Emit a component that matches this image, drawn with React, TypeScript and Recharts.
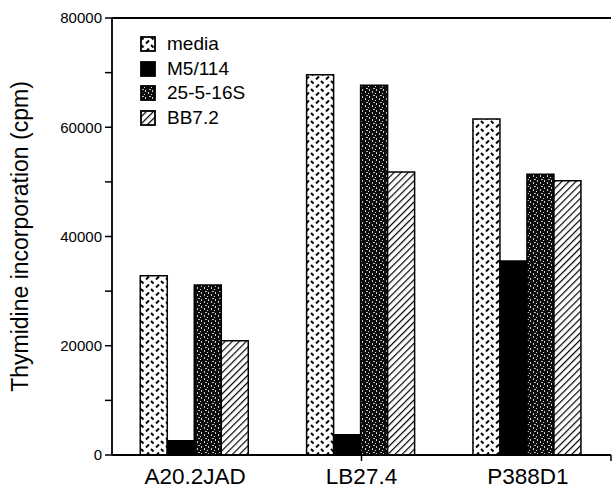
import React from 'react';
import { BarChart, Bar, XAxis, YAxis, Legend, ReferenceLine } from 'recharts';

const categories = ['A20.2JAD', 'LB27.4', 'P388D1'];
const media = [32800, 69600, 61500];
const m5114 = [2600, 3700, 35500];
const s25516 = [31100, 67700, 51400];
const bb72 = [20900, 51800, 50200];
const yTicks = [0, 10000, 20000, 30000, 40000, 50000, 60000, 70000, 80000];
const edgeTicks = [1, 2];

const data = categories.map((name, i) => ({
  name,
  media: media[i],
  m5114: m5114[i],
  s25516: s25516[i],
  bb72: bb72[i],
}));

const series = [
  { key: 'media', name: 'media', fill: 'url(#pMedia)' },
  { key: 'm5114', name: 'M5/114', fill: '#000' },
  { key: 's25516', name: '25-5-16S', fill: 'url(#pSpeck)' },
  { key: 'bb72', name: 'BB7.2', fill: 'url(#pHatch)' },
];

const font = '"Liberation Sans", Arial, Helvetica, sans-serif';

// pattern defs, prefix keeps ids unique between chart and legend
const Patterns = ({ prefix = '' }: { prefix?: string }) => (
  <defs>
    <pattern id={`${prefix}pMedia`} patternUnits="userSpaceOnUse" width="10" height="8">
      <rect width="10" height="8" fill="#fff" />
      <line x1="1" y1="1" x2="3.5" y2="3.5" stroke="#000" strokeWidth="1.9" />
      <line x1="6" y1="7.5" x2="9" y2="4.5" stroke="#000" strokeWidth="1.9" />
    </pattern>
    <pattern id={`${prefix}pSpeck`} patternUnits="userSpaceOnUse" width="7" height="7">
      <rect width="7" height="7" fill="#0c0c0c" />
      <rect x="1" y="0" width="1" height="2" fill="#ccc" />
      <rect x="4" y="2" width="1" height="1" fill="#ddd" />
      <rect x="2" y="4" width="2" height="1" fill="#bbb" />
      <rect x="5" y="5" width="1" height="2" fill="#ccc" />
    </pattern>
    <pattern id={`${prefix}pHatch`} patternUnits="userSpaceOnUse" width="5" height="5" patternTransform="rotate(45)">
      <rect width="5" height="5" fill="#fff" />
      <line x1="0" y1="0" x2="0" y2="5" stroke="#000" strokeWidth="2.4" />
    </pattern>
  </defs>
);

const LegendBox = () => (
  <div style={{ fontFamily: font, fontSize: 19, color: '#000' }}>
    {series.map((s) => (
      <div key={s.key} style={{ display: 'flex', alignItems: 'center', height: 24.5 }}>
        <svg width="16" height="16" style={{ marginRight: 11 }}>
          <Patterns prefix="lg-" />
          <rect
            x="1"
            y="1"
            width="14"
            height="14"
            fill={s.fill.startsWith('url') ? s.fill.replace('#', '#lg-') : s.fill}
            stroke="#000"
            strokeWidth="1.8"
          />
        </svg>
        <span>{s.name}</span>
      </div>
    ))}
  </div>
);

const YLabel = ({ viewBox }: any) => {
  const cy = viewBox.y + viewBox.height / 2;
  return (
    <text
      x={20}
      y={cy}
      transform={`rotate(-90, 20, ${cy})`}
      textAnchor="middle"
      dominantBaseline="central"
      fontFamily={font}
      fontSize={23}
      fill="#000"
    >
      Thymidine incorporation (cpm)
    </text>
  );
};

export default function App() {
  return (
    <div style={{ position: 'absolute', left: 0, top: 0, background: '#fff' }}>
      <BarChart
        width={612}
        height={494}
        data={data}
        margin={{ top: 18, right: 1, bottom: 0, left: 0 }}
        barCategoryGap="17%"
        barGap={0}
      >
        <Patterns />
        <XAxis
          xAxisId="a"
          type="number"
          domain={[0, 3]}
          ticks={edgeTicks}
          allowDataOverflow
          height={8}
          axisLine={{ stroke: '#000', strokeWidth: 1.8 }}
          tickLine={{ stroke: '#000', strokeWidth: 1.5 }}
          tickSize={6}
          tickFormatter={() => ''}
        />
        <XAxis
          xAxisId="b"
          dataKey="name"
          height={31}
          axisLine={false}
          tickLine={false}
          tickSize={0}
          tickMargin={5}
          tick={{ fill: '#000', fontSize: 22.5, fontFamily: font }}
        />
        <YAxis
          domain={[0, 80000]}
          ticks={yTicks}
          width={112}
          interval={0}
          axisLine={{ stroke: '#000', strokeWidth: 1.8 }}
          tickLine={{ stroke: '#000', strokeWidth: 1.5 }}
          tickSize={7}
          tickMargin={3}
          tickFormatter={(v: number) => (v % 20000 === 0 ? String(v) : '')}
          tick={{ fill: '#000', fontSize: 15, fontFamily: font }}
          label={<YLabel />}
        />
        <ReferenceLine y={80000} xAxisId="a" stroke="#000" strokeWidth={1.8} />
        <ReferenceLine x={3} xAxisId="a" stroke="#000" strokeWidth={1.8} />
        <Legend
          layout="vertical"
          align="center"
          verticalAlign="middle"
          content={<LegendBox />}
          wrapperStyle={{ position: 'absolute', left: 140, top: 32, width: 130 }}
        />
        {series.map((s) => (
          <Bar
            key={s.key}
            xAxisId="b"
            dataKey={s.key}
            name={s.name}
            fill={s.fill}
            stroke="#000"
            strokeWidth={1.5}
            isAnimationActive={false}
          />
        ))}
      </BarChart>
    </div>
  );
}
